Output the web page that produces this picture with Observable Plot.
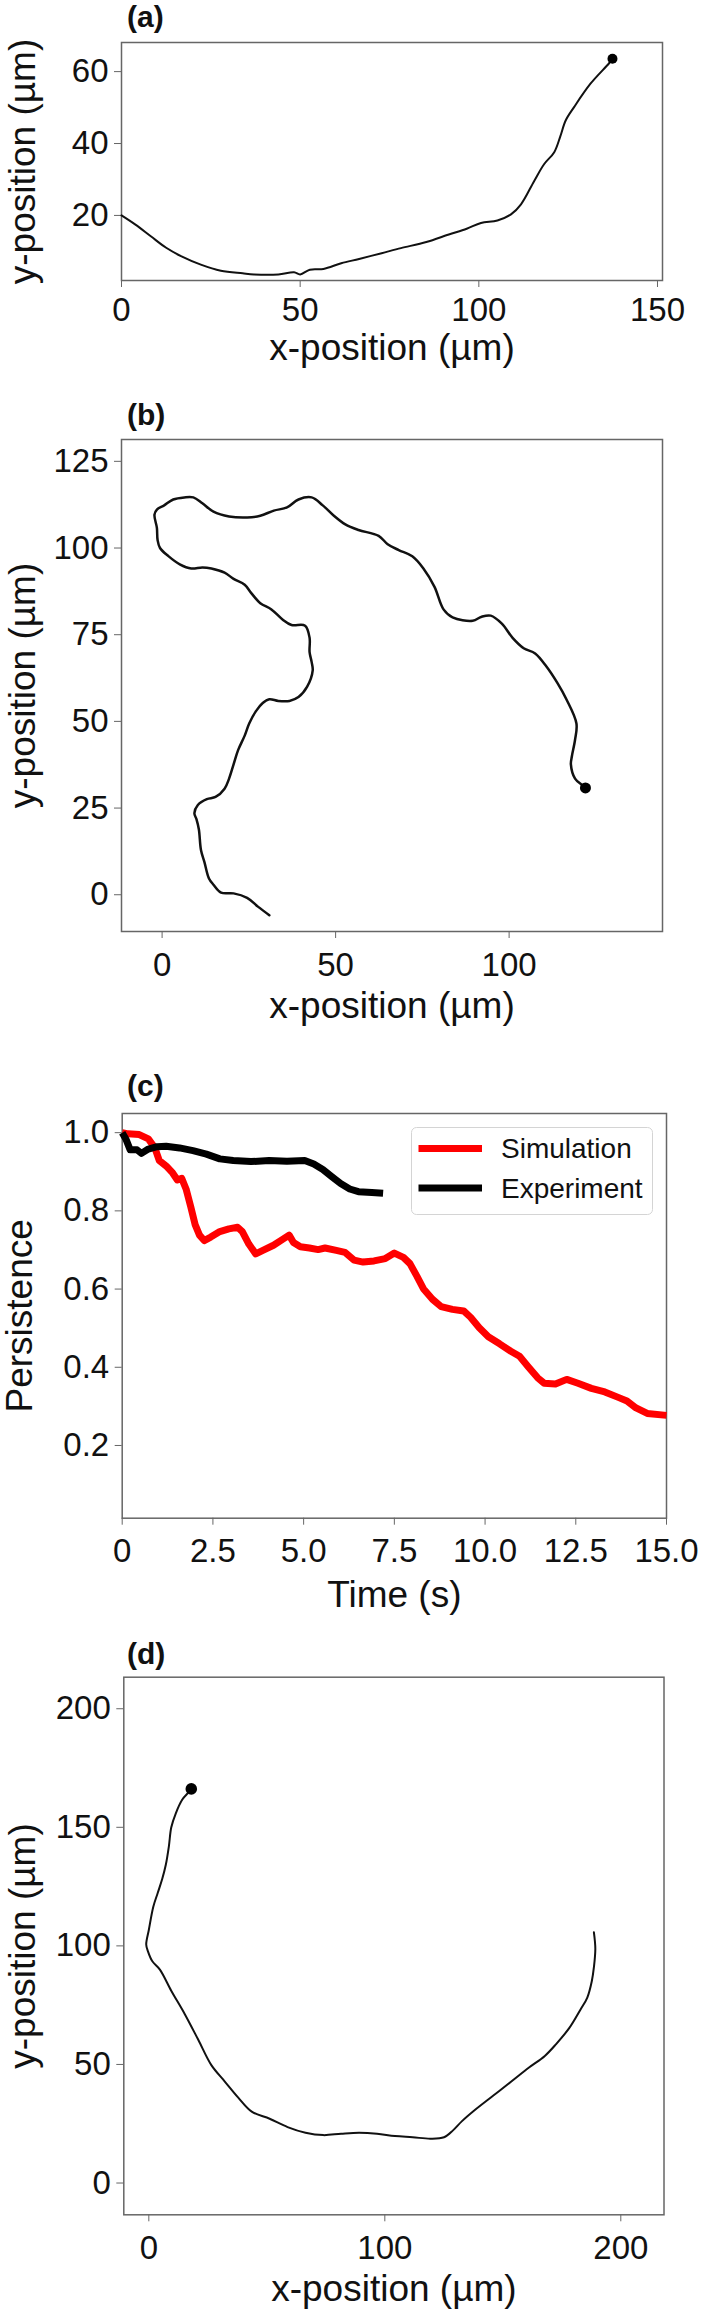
<!DOCTYPE html>
<html><head><meta charset="utf-8">
<script src="https://cdn.jsdelivr.net/npm/d3@7"></script>
<script src="https://cdn.jsdelivr.net/npm/@observablehq/plot@0.6"></script>
<style>
body{margin:0;background:#fff;}
#page{position:relative;width:702px;height:2310px;overflow:hidden;font-family:"Liberation Sans",Arial,sans-serif;background:#fff;}
.panel{position:absolute;left:0;}
.plabel{position:absolute;left:127px;font-weight:bold;font-size:30px;line-height:30px;color:#111;}
</style></head><body><div id="page"></div>
<script>
// ---------- Panel (a) trajectory ----------
const aX = [0, 3.8, 8.2, 12.5, 16.8, 22.2, 27.8, 33.9, 37.1, 43.9, 48.3, 50, 52.7, 56.5, 61.5, 66.5, 72.8, 78.2, 85.3, 91.6, 96.6, 100.6, 105.2, 109, 111.8, 115.5, 118.3, 121.1, 122.8, 124.3, 126.7, 131.3, 136.5, 137.4];
const aY = [20, 17.5, 14.2, 11, 8.6, 6.3, 4.6, 3.9, 3.6, 3.6, 4.2, 3.6, 4.9, 5.1, 6.7, 7.9, 9.5, 10.9, 12.6, 14.7, 16.3, 17.9, 18.6, 20.3, 23.1, 29.6, 34.3, 37.6, 42, 46.4, 50.2, 56.7, 62.4, 63.6];
const aXTicks = [0, 50, 100, 150];
const aYTicks = [20, 40, 60];

// ---------- Panel (b) trajectory ----------
const bX = [30.9, 27.7, 24.5, 20.6, 17, 14.8, 13.5, 12.2, 11.2, 10.6, 9.9, 9.3, 10.3, 12.9, 15.4, 18, 19.3, 20.6, 21.9, 23.8, 25.1, 27, 29, 30.9, 33.5, 36.7, 39.3, 41.8, 43.4, 43.1, 42.5, 42.5, 41.2, 37.3, 34.7, 31.5, 28.3, 25.7, 23.8, 20.6, 18, 14.2, 11.6, 8.4, 5.1, 1.9, -0.6, -1.3, -1.5, -2.2, -1.5, 0.6, 3.2, 6.4, 9, 11.6, 14.8, 19.3, 24.5, 28.3, 32.2, 36, 39.3, 43.1, 46.3, 49.5, 52.8, 56.6, 62.4, 65, 68.2, 72.1, 75.3, 78.5, 81.1, 83.7, 89.5, 92.1, 94.7, 97.9, 101, 104.2, 107.5, 110.7, 113.9, 116.5, 119.4, 119, 118.1, 117.8, 119, 121, 122];
const bY = [-5.9, -3.5, -0.9, 0.4, 0.6, 2.9, 4.7, 9.4, 12.9, 18.8, 21.8, 23.5, 25.9, 27.6, 28.2, 30.6, 33.5, 37.6, 41.7, 45.9, 49.4, 52.9, 55.3, 56.4, 55.9, 55.9, 57, 60, 64.7, 67.1, 70, 74.1, 77.6, 77.8, 79.4, 82.3, 84.1, 87, 89.4, 91.1, 92.9, 94.1, 94.4, 94.1, 95.3, 97.6, 100, 102.3, 105.8, 109.6, 111.1, 112.3, 114, 114.6, 114.6, 112.9, 110.5, 109.1, 108.8, 109.3, 110.8, 111.7, 114, 114.6, 112.3, 109.3, 106.8, 105.2, 103.5, 101.1, 99.4, 97.6, 94.1, 88.8, 82.3, 80, 79, 80.2, 80.5, 78.2, 74.1, 71.1, 69.6, 65.9, 61.1, 56.4, 49.4, 44.7, 40, 37.6, 33.5, 31.7, 30.8];
const bXTicks = [0, 50, 100];
const bYTicks = [0, 25, 50, 75, 100, 125];

// ---------- Panel (c) persistence ----------
const seriesNames = ["Simulation", "Experiment"];
const seriesColors = ["#ff0000", "#000000"];
const simT = [0, 0.16, 0.47, 0.72, 0.9, 1.02, 1.21, 1.39, 1.52, 1.64, 1.76, 1.89, 2.01, 2.13, 2.26, 2.44, 2.69, 2.94, 3.18, 3.31, 3.49, 3.68, 3.92, 4.17, 4.42, 4.6, 4.72, 4.91, 5.16, 5.4, 5.59, 5.9, 6.14, 6.39, 6.64, 6.94, 7.25, 7.5, 7.75, 7.93, 8.12, 8.3, 8.55, 8.79, 9.1, 9.41, 9.6, 9.84, 10.09, 10.4, 10.71, 10.95, 11.2, 11.45, 11.63, 11.94, 12.25, 12.56, 12.93, 13.3, 13.67, 13.91, 14.16, 14.47, 15];
const simP = [1.0, 0.997, 0.995, 0.984, 0.961, 0.929, 0.915, 0.897, 0.879, 0.883, 0.856, 0.81, 0.765, 0.738, 0.724, 0.733, 0.747, 0.754, 0.758, 0.747, 0.715, 0.69, 0.701, 0.712, 0.727, 0.738, 0.719, 0.708, 0.705, 0.701, 0.705, 0.699, 0.694, 0.674, 0.669, 0.672, 0.678, 0.692, 0.681, 0.665, 0.633, 0.601, 0.574, 0.555, 0.548, 0.544, 0.528, 0.501, 0.478, 0.46, 0.441, 0.428, 0.4, 0.373, 0.359, 0.357, 0.369, 0.359, 0.346, 0.337, 0.323, 0.314, 0.296, 0.282, 0.277];
const expT = [0, 0.1, 0.22, 0.41, 0.53, 0.72, 0.96, 1.21, 1.58, 1.95, 2.32, 2.69, 3.06, 3.55, 4.05, 4.54, 5.03, 5.28, 5.53, 5.77, 6.02, 6.27, 6.51, 6.88, 7.19];
const expP = [1.0, 0.984, 0.956, 0.956, 0.947, 0.958, 0.964, 0.965, 0.961, 0.954, 0.945, 0.933, 0.929, 0.926, 0.929, 0.927, 0.929, 0.92, 0.906, 0.888, 0.87, 0.856, 0.849, 0.847, 0.845];
const cXTicks = [0, 2.5, 5, 7.5, 10, 12.5, 15];
const cYTicks = [0.2, 0.4, 0.6, 0.8, 1.0];

// ---------- Panel (d) trajectory ----------
const dX = [188.6, 189.2, 188.6, 187.7, 185.8, 183, 178.2, 172.5, 167.8, 161.1, 153.6, 146, 138.4, 132.7, 128.9, 125.1, 119.4, 111.8, 104.3, 96.7, 89.1, 81.5, 73.9, 66.4, 58.8, 51.2, 43.6, 37.9, 32.2, 26.5, 20.9, 15.2, 9.5, 4.7, 1.5, -0.4, -1.1, 0, 1.9, 3.8, 5.7, 7.2, 8.5, 9.5, 11.4, 14.2, 16.7, 18];
const dY = [105.7, 98.8, 91, 85.1, 78.2, 73.3, 65.4, 58.5, 53.6, 48.7, 42.8, 36.9, 31, 26.1, 22.2, 19.3, 18.7, 19.3, 19.8, 20.8, 21.2, 20.8, 20.2, 21.2, 23.6, 27.1, 30.1, 36, 42.8, 49.7, 60.5, 71.3, 81.1, 90, 93.5, 97.8, 100.6, 106.7, 116.5, 122.4, 128.3, 134.2, 142, 149.9, 155.8, 161.7, 164.6, 166.2];
const dXTicks = [0, 100, 200];
const dYTicks = [0, 50, 100, 150, 200];

const xLabel = "x-position (µm)";
const yLabel = "y-position (µm)";

// ---------- helpers ----------
const FONT = '"Liberation Sans", Arial, sans-serif';
const AX = "#666";
const zip = (xs, ys) => xs.map((x, i) => ({x, y: ys[i]}));
const page = document.getElementById("page");

function place(el, top) {
  const wrap = document.createElement("div");
  wrap.className = "panel";
  wrap.style.top = top + "px";
  wrap.appendChild(el);
  page.appendChild(wrap);
}
function panelLabel(text, top) {
  const d = document.createElement("div");
  d.className = "plabel";
  d.style.top = top + "px";
  d.textContent = text;
  page.appendChild(d);
}
function axes({xTicks, yTicks, xFmt, yFmt, xPad, xLab, yLab, xOff, yOff}) {
  return [
    Plot.frame({stroke: AX, strokeWidth: 1.5}),
    Plot.axisX({ticks: xTicks, tickFormat: xFmt, tickSize: 7, tickPadding: xPad, stroke: AX, fill: "#111", fontSize: 33, label: null}),
    Plot.axisY({ticks: yTicks, tickFormat: yFmt, tickSize: 7, tickPadding: 6, stroke: AX, fill: "#111", fontSize: 33, label: null}),
    Plot.axisX({ticks: [], tickSize: 0, fill: "#111", fontSize: 37, label: xLab, labelAnchor: "center", labelOffset: xOff, labelArrow: "none"}),
    Plot.axisY({ticks: [], tickSize: 0, fill: "#111", fontSize: 37, label: yLab, labelAnchor: "center", labelOffset: yOff, labelArrow: "none"})
  ];
}
const baseStyle = {fontFamily: FONT, background: "transparent", overflow: "visible"};

// ---------- (a) ----------
const aData = zip(aX, aY);
place(Plot.plot({
  width: 702, height: 375, marginLeft: 121, marginRight: 40, marginTop: 42, marginBottom: 95,
  style: baseStyle,
  x: {domain: [0, 151.4]}, y: {domain: [1.9, 68.1]},
  marks: [
    ...axes({xTicks: aXTicks, yTicks: aYTicks, xPad: 10, xLab: xLabel, yLab: yLabel, xOff: 79, yOff: 113}),
    Plot.line(aData, {x: "x", y: "y", stroke: "#111", strokeWidth: 2, curve: "catmull-rom"}),
    Plot.dot(aData.slice(-1), {x: "x", y: "y", r: 5, fill: "#000"})
  ]
}), 0);
panelLabel("(a)", 1.6);

// ---------- (b) ----------
const bData = zip(bX, bY);
place(Plot.plot({
  width: 702, height: 640, marginLeft: 121, marginRight: 40, marginTop: 59, marginBottom: 89,
  style: baseStyle,
  x: {domain: [-11.7, 144.2]}, y: {domain: [-10.6, 131.3]},
  marks: [
    ...axes({xTicks: bXTicks, yTicks: bYTicks, xPad: 14, xLab: xLabel, yLab: yLabel, xOff: 86, yOff: 113}),
    Plot.line(bData, {x: "x", y: "y", stroke: "#111", strokeWidth: 2.5, curve: "catmull-rom"}),
    Plot.dot(bData.slice(-1), {x: "x", y: "y", r: 5.5, fill: "#000"})
  ]
}), 380);
panelLabel("(b)", 400);

// ---------- (c) ----------
const cData = [
  ...simT.map((t, i) => ({t, p: simP[i], s: seriesNames[0]})),
  ...expT.map((t, i) => ({t, p: expP[i], s: seriesNames[1]}))
];
place(Plot.plot({
  width: 702, height: 580, marginLeft: 121.7, marginRight: 36, marginTop: 73, marginBottom: 102.3,
  style: baseStyle,
  x: {domain: [0, 15]}, y: {domain: [0.014, 1.049]},
  color: {domain: seriesNames, range: seriesColors},
  marks: [
    ...axes({xTicks: cXTicks, yTicks: cYTicks, xFmt: d => d === 0 ? "0" : d.toFixed(1), yFmt: d => d.toFixed(1), xPad: 13.6, xLab: "Time (s)", yLab: "Persistence", xOff: 89, yOff: 116}),
    Plot.line(cData, {x: "t", y: "p", z: "s", stroke: "s", strokeWidth: 7, strokeLinejoin: "round", strokeLinecap: "butt"})
  ]
}), 1040);
panelLabel("(c)", 1070.6);

// legend for (c)
(function legend() {
  const ns = "http://www.w3.org/2000/svg";
  const svg = document.createElementNS(ns, "svg");
  svg.setAttribute("width", 242); svg.setAttribute("height", 88);
  svg.style.position = "absolute"; svg.style.left = "410.5px"; svg.style.top = "1127px";
  const r = document.createElementNS(ns, "rect");
  Object.entries({x: 0.5, y: 0.5, width: 241, height: 87, rx: 5, fill: "rgba(255,255,255,0.8)", stroke: "#d4d4d4", "stroke-width": 1}).forEach(([k, v]) => r.setAttribute(k, v));
  svg.appendChild(r);
  seriesNames.forEach((name, i) => {
    const yy = 21.5 + i * 39.5;
    const l = document.createElementNS(ns, "line");
    Object.entries({x1: 7.5, x2: 71, y1: yy, y2: yy, stroke: seriesColors[i], "stroke-width": 7}).forEach(([k, v]) => l.setAttribute(k, v));
    svg.appendChild(l);
    const t = document.createElementNS(ns, "text");
    Object.entries({x: 90, y: yy + 9.5, "font-size": 28, "font-family": FONT, fill: "#111"}).forEach(([k, v]) => t.setAttribute(k, v));
    t.textContent = name;
    svg.appendChild(t);
  });
  page.appendChild(svg);
})();

// ---------- (d) ----------
const dData = zip(dX, dY);
place(Plot.plot({
  width: 702, height: 690, marginLeft: 123.3, marginRight: 38.5, marginTop: 56.7, marginBottom: 95.7,
  style: baseStyle,
  x: {domain: [-10.6, 218.3]}, y: {domain: [-13.4, 213.3]},
  marks: [
    ...axes({xTicks: dXTicks, yTicks: dYTicks, xPad: 13.7, xLab: xLabel, yLab: yLabel, xOff: 86, yOff: 115}),
    Plot.line(dData, {x: "x", y: "y", stroke: "#111", strokeWidth: 2, curve: "catmull-rom"}),
    Plot.dot(dData.slice(-1), {x: "x", y: "y", r: 5.8, fill: "#000"})
  ]
}), 1620);
panelLabel("(d)", 1638.6);
</script>
</body></html>
